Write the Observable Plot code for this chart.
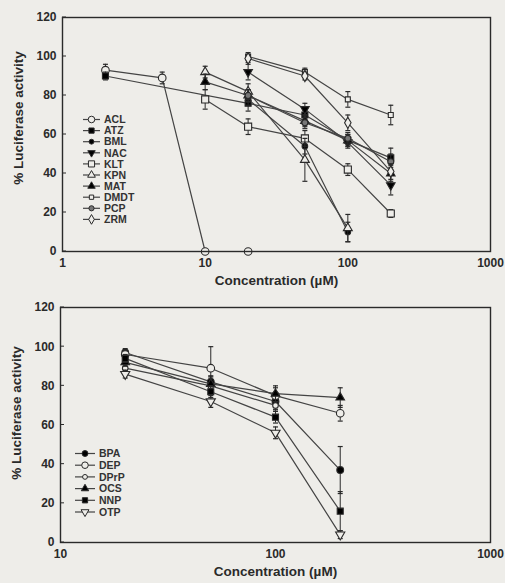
<!DOCTYPE html>
<html><head><meta charset="utf-8">
<script src="https://cdn.jsdelivr.net/npm/d3@7"></script>
<script src="https://cdn.jsdelivr.net/npm/@observablehq/plot@0.6"></script>
<style>
body{margin:0;background:#eeede9;width:505px;height:583px;overflow:hidden}
#c svg{display:block}
</style></head><body><div id="c"></div>
<script>
// ---------- DATA: [concentration µM, % activity, error] ----------
// Top panel
const topNames = ["ACL","ATZ","BML","NAC","KLT","KPN","MAT","DMDT","PCP","ZRM"];
const ACL  = [[2,93,3],[5,89,3],[10,0,0],[20,0,0]];
const ATZ  = [[2,90,2],[20,76,4],[50,70,3],[100,57,3],[200,48,5]];
const BML  = [[20,78,3],[50,54,4],[100,10,5]];
const NAC  = [[20,92,4],[50,73,3],[100,56,3],[200,34,5]];
const KLT  = [[10,78,5],[20,64,4],[50,58,4],[100,42,3],[200,19.5,2]];
const KPN  = [[10,92,3],[20,82,4],[50,47,11],[100,12,7]];
const MAT  = [[10,87,4],[20,80,3],[50,67,3],[100,57,3],[200,40,4]];
const DMDT = [[20,100,2],[50,92,2],[100,78,4],[200,70,5]];
const PCP  = [[20,80,3],[50,66,3],[100,58,3],[200,46,4]];
const ZRM  = [[20,99,2],[50,90,2],[100,66,4],[200,41,4]];
const topValues = [ACL,ATZ,BML,NAC,KLT,KPN,MAT,DMDT,PCP,ZRM];
const topXTicks = [1,10,100,1000];
// Bottom panel
const botNames = ["BPA","DEP","DPrP","OCS","NNP","OTP"];
const BPA  = [[20,97,2],[50,82,3],[100,72,4],[200,37,12]];
const DEP  = [[20,96,2],[50,89,11],[100,75,4],[200,66,4]];
const DPrP = [[20,89,2],[50,80,4],[100,70,3]];
const OCS  = [[20,92,2],[50,81,4],[100,76,4],[200,74,5]];
const NNP  = [[20,94,2],[50,77,3],[100,64,3],[200,16,10]];
const OTP  = [[20,86,2],[50,72,3],[100,56,3],[200,4,2]];
const botValues = [BPA,DEP,DPrP,OCS,NNP,OTP];
const botXTicks = [10,100,1000];
const yTicks = [0,20,40,60,80,100,120];
const xTitle = "Concentration (µM)";
const yTitle = "% Luciferase activity";

// ---------- STYLE ----------
const triDown = {draw(ctx, size){ const y = -Math.sqrt(size/(Math.sqrt(3)*3)); const k=Math.sqrt(3);
  ctx.moveTo(0,-2*y); ctx.lineTo(-k*y,y); ctx.lineTo(k*y,y); ctx.closePath(); }};
const capSym = {draw(ctx){ ctx.moveTo(-2.5,0); ctx.lineTo(2.5,0); }};
const SYM = {circle:d3.symbolCircle, square:d3.symbolSquare, triangle:d3.symbolTriangle,
  diamond:d3.symbolDiamond, hexagon:d3.symbolCircle, tridown:triDown};
// [symbol, fill, radius]
const topStyle = [["circle","open",3.8],["square","black",3.4],["circle","black",2.8],["tridown","black",3.2],
  ["square","open",4],["triangle","open",3.3],["triangle","black",3.2],["square","open",2.8],["hexagon","#777",3],["diamond","open",3.4]];
const botStyle = [["circle","black",3.4],["circle","open",3.8],["circle","open",2.8],["triangle","black",3.2],["square","black",3.4],["tridown","open",3.4]];
const BG = "#eeede9", INK = "#2a2a2a", LINE = "#444";
const FONT = "Liberation Sans, Arial, sans-serif";

function panel(names, values, styles, opt){
  const marks = [];
  values.forEach((arr, i) => {
    const rows = arr.map(([x,y,e]) => ({x,y,e}));
    const [s, f, r] = styles[i];
    const errs = rows.filter(d => d.e > 0);
    marks.push(Plot.line(rows, {x:"x", y:"y", stroke:LINE, strokeWidth:1.2}));
    marks.push(Plot.ruleX(errs, {x:"x", y1:d=>d.y-d.e, y2:d=>d.y+d.e, stroke:INK, strokeWidth:1}));
    marks.push(Plot.dot(errs, {x:"x", y:d=>d.y-d.e, symbol:capSym, stroke:INK, strokeWidth:1.2}));
    marks.push(Plot.dot(errs, {x:"x", y:d=>d.y+d.e, symbol:capSym, stroke:INK, strokeWidth:1.2}));
    marks.push(Plot.dot(rows, {x:"x", y:"y", symbol:SYM[s], r, fill: f==="open"?BG:f, stroke:INK, strokeWidth:1.1}));
  });
  marks.push(Plot.frame({stroke:INK, strokeWidth:1.4}));
  const svg = Plot.plot({
    width:505, height:opt.height,
    marginLeft:opt.ml, marginRight:15, marginTop:17, marginBottom:opt.mb,
    style:{background:"transparent", fontFamily:FONT, fontWeight:"bold", fontSize:"12px", color:INK},
    x:{type:"log", domain:opt.xdom, ticks:opt.xticks, tickFormat:d=>String(d), tickSize:0, tickPadding:7,
       label:xTitle, labelArrow:"none", labelAnchor:"center", labelOffset:opt.xlo},
    y:{domain:[0,120], ticks:yTicks, tickSize:0, tickPadding:6, label:null},
    marks
  });
  const sel = d3.select(svg);
  sel.selectAll("text").filter(function(){ return this.textContent === xTitle; }).style("font-size","13.5px");
  // y title
  sel.append("text").attr("transform",`translate(${opt.ylx},${opt.lly}) rotate(-90)`).attr("text-anchor","middle")
    .attr("font-family",FONT).attr("font-weight","bold").attr("font-size","13.5px").attr("fill",INK).text(yTitle);
  // inward y ticks
  const ys = d3.scaleLinear([0,120],[opt.height-opt.mb, 17]);
  const tg = sel.append("g").attr("stroke",INK).attr("stroke-width",1);
  yTicks.forEach(t => tg.append("line").attr("x1",opt.ml).attr("x2",opt.ml+4).attr("y1",ys(t)).attr("y2",ys(t)));
  // legend inside plot area
  const g = sel.append("g").attr("font-family",FONT).attr("font-size","10.5px")
    .attr("text-anchor","start").attr("font-weight","bold");
  names.forEach((n, i) => {
    const y = opt.leg.y0 + i*opt.leg.dy;
    const [s, f, r] = styles[i];
    g.append("line").attr("x1",opt.leg.x1).attr("x2",opt.leg.x2).attr("y1",y).attr("y2",y).attr("stroke",LINE).attr("stroke-width",1.2);
    g.append("path").attr("transform",`translate(${(opt.leg.x1+opt.leg.x2)/2},${y})`)
      .attr("d", d3.symbol(SYM[s], Math.PI*r*r*0.75)()).attr("fill", f==="open"?BG:f).attr("stroke",INK).attr("stroke-width",1);
    g.append("text").attr("x",opt.leg.tx).attr("y",y).attr("dy","0.36em").attr("fill","#333").text(n);
  });
  return svg;
}

const c = document.getElementById("c");
c.appendChild(panel(topNames, topValues, topStyle, {height:290, ml:62, mb:39, xdom:[1,1000], xticks:topXTicks, xlo:33,
  ylx:23, lly:118, leg:{y0:119.5, dy:11.1, x1:83, x2:100, tx:104}}));
c.appendChild(panel(botNames, botValues, botStyle, {height:293, ml:60, mb:41, xdom:[10,1000], xticks:botXTicks, xlo:33,
  ylx:21, lly:123, leg:{y0:163.5, dy:11.7, x1:75, x2:95, tx:99}}));
</script></body></html>
